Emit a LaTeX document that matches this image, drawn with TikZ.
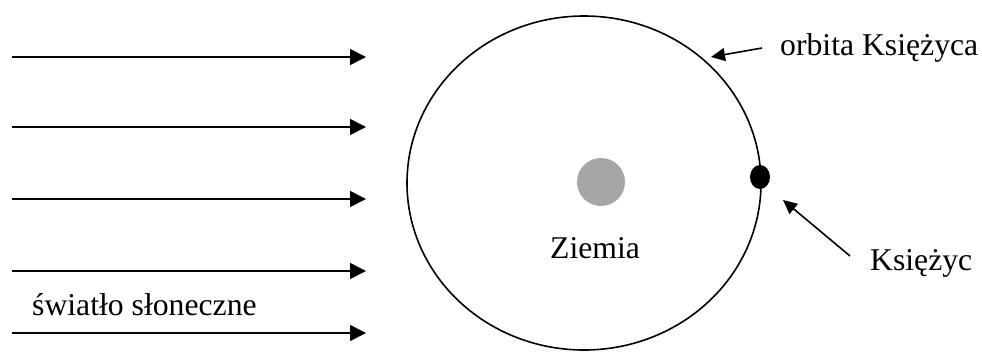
\documentclass[tikz,border=0pt]{standalone}
\usepackage{fontspec}
\setmainfont{Liberation Serif}
\usetikzlibrary{arrows.meta}
\begin{document}
\begin{tikzpicture}[x=1pt,y=-1pt,
  ray/.style={line width=1.6pt,-{Triangle[length=16pt,width=16pt]}},
  pointer/.style={line width=1.6pt,-{Triangle[length=14pt,width=13pt]}},
  lbl/.style={inner sep=0pt,anchor=base west,font=\fontsize{31.7}{36}\selectfont}]
\useasboundingbox (0,0) rectangle (982,351);
% orbit
\draw[line width=1.6pt] (584,183) ellipse [x radius=177, y radius=167];
\coordinate (orbitpt) at (711,57);
% Earth
\fill[fill={rgb,255:red,166;green,166;blue,166}] (601,182) circle [radius=24];
\node[lbl] (ziemia) at (550,258) {Ziemia};
% Moon
\fill (760,177) ellipse [x radius=10, y radius=12];
\coordinate (moonpt) at (783,200);
% labels
\node[lbl] (orbita) at (780,55) {orbita Księżyca};
\node[lbl] (ksiezyc) at (870,270) {Księżyc};
\node[lbl] (swiatlo) at (32,315) {światło słoneczne};
\coordinate (t1) at (762,48);
\coordinate (t2) at (850,256);
\draw[pointer] (t1) -- (orbitpt);
\draw[pointer] (t2) -- (moonpt);
% sun rays
\foreach \i/\y in {1/57,2/127,3/199,4/271,5/333}{
  \coordinate (s\i) at (12,\y);
  \coordinate (e\i) at (366,\y);
  \draw[ray] (s\i) -- (e\i);
}
\end{tikzpicture}
\end{document}
